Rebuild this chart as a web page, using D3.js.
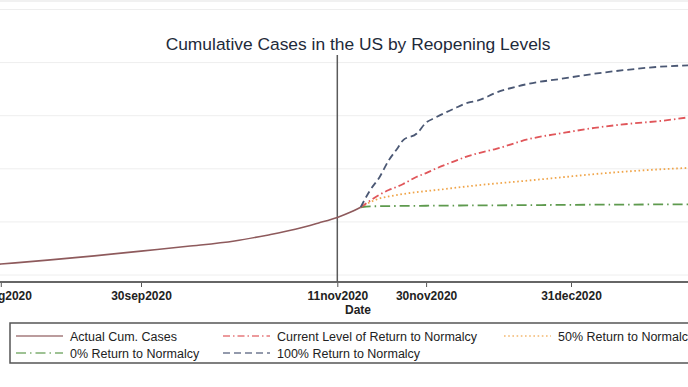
<!doctype html>
<html lang="en">
<head>
<meta charset="utf-8">
<title>Cumulative Cases in the US by Reopening Levels</title>
<script src="https://cdn.jsdelivr.net/npm/d3@7"></script>
<style>
  html, body { margin: 0; padding: 0; background: #fff; }
  svg { display: block; font-family: "Liberation Sans", Arial, sans-serif; }
</style>
</head>
<body>
<svg id="chart" width="688" height="387"></svg>
<script>
// cumulative cases, millions
const actualDates = ["2020-08-20", "2020-08-31", "2020-09-10", "2020-09-20", "2020-09-30", "2020-10-10",
  "2020-10-20", "2020-10-27", "2020-11-02", "2020-11-07", "2020-11-11", "2020-11-14", "2020-11-16"];
const actualCases = [5.62, 6.03, 6.40, 6.80, 7.25, 7.70, 8.20, 8.75, 9.30, 9.90, 10.42, 10.95, 11.38];

const projDates = ["2020-11-16", "2020-11-18", "2020-11-20", "2020-11-22", "2020-11-24", "2020-11-25",
  "2020-11-28", "2020-11-30", "2020-12-02", "2020-12-06", "2020-12-09", "2020-12-11", "2020-12-15",
  "2020-12-22", "2020-12-29", "2021-01-05", "2021-01-12", "2021-01-19", "2021-01-26"];
const projCurrent = [11.38, 12.0, 12.55, 13.0, 13.35, 13.55, 14.25, 14.6, 15.0, 15.7, 16.2, 16.45, 16.88,
  17.8, 18.35, 18.85, 19.22, 19.5, 19.9];
const proj50 = [11.38, 11.85, 12.2, 12.4, 12.55, 12.62, 12.8, 12.9, 13.0, 13.2, 13.35, 13.45, 13.62,
  13.9, 14.2, 14.5, 14.75, 14.95, 15.1];
const proj0 = [11.38, 11.46, 11.48, 11.49, 11.5, 11.5, 11.51, 11.52, 11.53, 11.54, 11.55, 11.55, 11.56,
  11.58, 11.6, 11.62, 11.63, 11.65, 11.66];
const proj100 = [11.38, 12.97, 14.19, 15.79, 17.01, 17.66, 18.32, 19.35, 19.82, 20.67, 21.23, 21.42, 22.17,
  23.01, 23.48, 23.95, 24.32, 24.61, 24.75];

const tickDates = ["2020-08-31", "2020-09-30", "2020-11-11", "2020-11-30", "2020-12-31"];
const gridValues = [5, 10, 15, 20, 25, 30];
const markerDate = "2020-11-11";

const parse = d3.utcParse("%Y-%m-%d");
const fmt = d => d3.utcFormat("%d%b%Y")(d).toLowerCase();

const svg = d3.select("#chart");

// plot region runs off both edges of the picture
const x = d3.scaleUtc()
  .domain([parse("2020-09-30"), parse("2020-12-31")])
  .range([141, 571]);
const y = d3.scaleLinear()
  .domain([5, 30])
  .range([275, 9.5]);
const axisY = 282;

// frame line at the very top
svg.append("line")
  .attr("x1", 0).attr("x2", 688).attr("y1", 1).attr("y2", 1)
  .attr("stroke", "#ececec").attr("stroke-width", 1.5);

// gridlines
svg.append("g").selectAll("line")
  .data(gridValues)
  .join("line")
  .attr("x1", 0).attr("x2", 688)
  .attr("y1", d => y(d)).attr("y2", d => y(d))
  .attr("stroke", "#eeeeee").attr("stroke-width", 1);

// title
svg.append("text")
  .attr("x", 358).attr("y", 50)
  .attr("text-anchor", "middle")
  .attr("font-size", 17.4)
  .attr("fill", "#1e2a3a")
  .text("Cumulative Cases in the US by Reopening Levels");

// x axis
const xAxis = d3.axisBottom(x)
  .tickValues(tickDates.map(parse))
  .tickFormat(fmt)
  .tickSize(5)
  .tickSizeOuter(0);

const gx = svg.append("g")
  .attr("transform", `translate(0,${axisY})`)
  .call(xAxis);
gx.select(".domain").remove();
gx.selectAll(".tick line").attr("stroke", "#555").attr("stroke-width", 1);
gx.selectAll(".tick text")
  .attr("dy", null).attr("y", 18)
  .attr("font-size", 12).attr("font-weight", "bold")
  .attr("font-family", "Liberation Sans, Arial, sans-serif")
  .attr("fill", "#222");

svg.append("line")
  .attr("x1", 0).attr("x2", 688).attr("y1", axisY).attr("y2", axisY)
  .attr("stroke", "#666").attr("stroke-width", 2);

svg.append("text")
  .attr("x", 358).attr("y", 314)
  .attr("text-anchor", "middle")
  .attr("font-size", 12).attr("font-weight", "bold")
  .attr("fill", "#222")
  .text("Date");

// reference line at 11nov2020
svg.append("line")
  .attr("x1", x(parse(markerDate))).attr("x2", x(parse(markerDate)))
  .attr("y1", 55).attr("y2", axisY)
  .attr("stroke", "#5a5a5a").attr("stroke-width", 1.5);

// series
const series = [
  { name: "0% Return to Normalcy", dates: projDates, vals: proj0, color: "#5e9a4e", dash: "10,4,1.5,4", w: 1.8 },
  { name: "50% Return to Normalcy", dates: projDates, vals: proj50, color: "#f0a54a", dash: "1.6,2.6", w: 1.8 },
  { name: "Current Level of Return to Normalcy", dates: projDates, vals: projCurrent, color: "#e0565a", dash: "7,3,1.5,3", w: 1.8 },
  { name: "100% Return to Normalcy", dates: projDates, vals: proj100, color: "#4b5874", dash: "7,4", w: 1.8 },
  { name: "Actual Cum. Cases", dates: actualDates, vals: actualCases, color: "#8e5a5c", dash: null, w: 1.6 }
];

const line = d3.line()
  .x(d => x(d[0]))
  .y(d => y(d[1]))
  .curve(d3.curveMonotoneX);

svg.append("g").selectAll("path")
  .data(series)
  .join("path")
  .attr("d", s => line(s.dates.map((d, i) => [parse(d), s.vals[i]])))
  .attr("fill", "none")
  .attr("stroke", s => s.color)
  .attr("stroke-width", s => s.w)
  .attr("stroke-dasharray", s => s.dash);

// legend
const legend = svg.append("g");
legend.append("rect")
  .attr("x", 10).attr("y", 323).attr("width", 700).attr("height", 40)
  .attr("fill", "#fff").attr("stroke", "#555").attr("stroke-width", 1.5);

const legendOrder = [
  { s: series[4], col: 0, row: 0 },
  { s: series[2], col: 1, row: 0 },
  { s: series[1], col: 2, row: 0 },
  { s: series[0], col: 0, row: 1 },
  { s: series[3], col: 1, row: 1 }
];
const colX = [16, 223, 504];
const rowY = [336, 353];

const items = legend.selectAll("g.item")
  .data(legendOrder)
  .join("g")
  .attr("class", "item")
  .attr("transform", d => `translate(${colX[d.col]},${rowY[d.row]})`);
items.append("line")
  .attr("x1", 0).attr("x2", 47).attr("y1", 0).attr("y2", 0)
  .attr("stroke", d => d.s.color)
  .attr("stroke-opacity", 0.8)
  .attr("stroke-width", 1.5)
  .attr("stroke-dasharray", d => d.s.dash);
items.append("text")
  .attr("x", 54).attr("y", 4.5)
  .attr("font-size", 12.5)
  .attr("fill", "#222")
  .text(d => d.s.name);
</script>
</body>
</html>
